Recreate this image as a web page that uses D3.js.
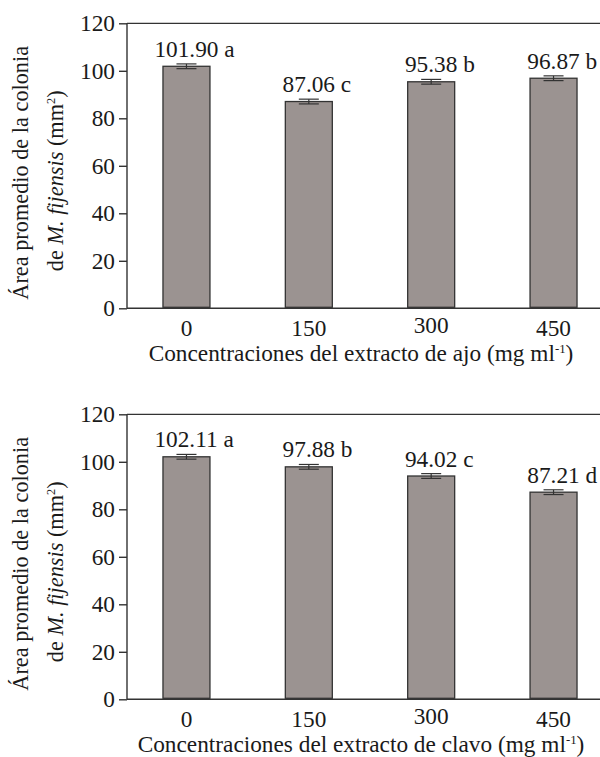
<!DOCTYPE html>
<html><head><meta charset="utf-8">
<script src="https://cdn.jsdelivr.net/npm/d3@7/dist/d3.min.js"></script>
</head><body style="margin:0">
<svg id="c" width="600" height="757"></svg>
<script>
const categories = ["0","150","300","450"];
const ajoValues = [101.90, 87.06, 95.38, 96.87];
const ajoErrors = [1.0, 1.0, 1.0, 1.0];
const ajoLetters = ["a","c","b","b"];
const clavoValues = [102.11, 97.88, 94.02, 87.21];
const clavoErrors = [1.0, 1.0, 1.0, 1.0];
const clavoLetters = ["a","b","c","d"];
const yTicks = [0,20,40,60,80,100,120];
const xTitles = ["Concentraciones del extracto de ajo (mg ml", "Concentraciones del extracto de clavo (mg ml"];

const svg = d3.select("#c");
const FS = 23.3, FSY = 22.3;
const barFill = "#9b9391", dark = "#333";

function addText(parent, fs) {
  return parent.append("text").style("font-family", "'Liberation Serif'").attr("font-size", fs || FS).attr("fill", "#1a1a1a");
}

function panel(top0, values, errors, letters, xTitle, tickDy) {
  const g = svg.append("g");
  const x0 = 127, xr = 600;
  const y = d3.scaleLinear().domain([0,120]).range([top0, top0 - 285]);
  const x = d3.scaleBand().domain(categories).range([127, 613]).paddingInner(0.616).paddingOuter(0.294);
  g.append("line").attr("x1", x0).attr("x2", xr).attr("y1", y(120)).attr("y2", y(120)).attr("stroke", dark).attr("stroke-width", 1.3);
  categories.forEach((c,i) => {
    g.append("rect").attr("x", x(c)).attr("width", x.bandwidth())
      .attr("y", y(values[i])).attr("height", y(0) - y(values[i]) - 1)
      .attr("fill", barFill).attr("stroke", dark).attr("stroke-width", 1.3);
    const cx = x(c) + x.bandwidth()/2;
    const eT = y(values[i] + errors[i]), eB = y(values[i] - errors[i]);
    g.append("line").attr("x1", cx).attr("x2", cx).attr("y1", eT).attr("y2", eB).attr("stroke", dark).attr("stroke-width", 1.2);
    g.append("line").attr("x1", cx-10).attr("x2", cx+10).attr("y1", eT).attr("y2", eT).attr("stroke", dark).attr("stroke-width", 1.2);
    g.append("line").attr("x1", cx-10).attr("x2", cx+10).attr("y1", eB).attr("y2", eB).attr("stroke", dark).attr("stroke-width", 1.2);
    const lbl = values[i].toFixed(2);
    const nw = (lbl.length - 1) * FS * 0.5 + FS * 0.25;
    addText(g).attr("x", cx - nw/2).attr("y", eT - 7).text(lbl + " " + letters[i]);
    addText(g).attr("x", cx).attr("y", y(0) + 28 + tickDy[i]).attr("text-anchor","middle").text(c);
  });
  g.append("line").attr("x1", x0).attr("x2", xr).attr("y1", y(0)).attr("y2", y(0)).attr("stroke", dark).attr("stroke-width", 1.5);
  const ax = g.append("g").attr("transform", `translate(${x0},0)`)
    .call(d3.axisLeft(y).tickValues(yTicks).tickSize(8).tickFormat(d3.format("d")));
  ax.selectAll("path,line").attr("stroke", dark).attr("stroke-width", 1.4);
  ax.selectAll("text").remove();
  ax.select(".domain").attr("d", `M0,${y(120)}V${y(0)}`);
  yTicks.forEach(v => {
    addText(g).attr("x", x0 - 12).attr("y", y(v)).attr("dy", "0.34em").attr("text-anchor", "end").text(v);
  });
  const xt = addText(g).attr("x", 361).attr("y", y(0) + 53).attr("text-anchor","middle");
  xt.append("tspan").text(xTitle);
  xt.append("tspan").text("-1").attr("font-size", FS*0.55).attr("dy", -8);
  xt.append("tspan").text(")").attr("dy", 8);
  const cy = (y(0) + y(120))/2 + 7;
  addText(g, FSY).attr("transform", `translate(28,${cy}) rotate(-90)`).attr("text-anchor","middle")
    .text("Área promedio de la colonia");
  const yt2 = addText(g, FSY).attr("transform", `translate(63,${cy+8}) rotate(-90)`).attr("text-anchor","middle");
  yt2.append("tspan").text("de ");
  yt2.append("tspan").style("font-style","italic").text("M. fijensis");
  yt2.append("tspan").text(" (mm");
  yt2.append("tspan").text("2").attr("font-size", FSY*0.55).attr("dy", -8);
  yt2.append("tspan").text(")").attr("dy", 8);
}
panel(308.3, ajoValues, ajoErrors, ajoLetters, xTitles[0], [0,0,-3,0]);
panel(699.3, clavoValues, clavoErrors, clavoLetters, xTitles[1], [0,0,-3,0]);
</script>
</body></html>
